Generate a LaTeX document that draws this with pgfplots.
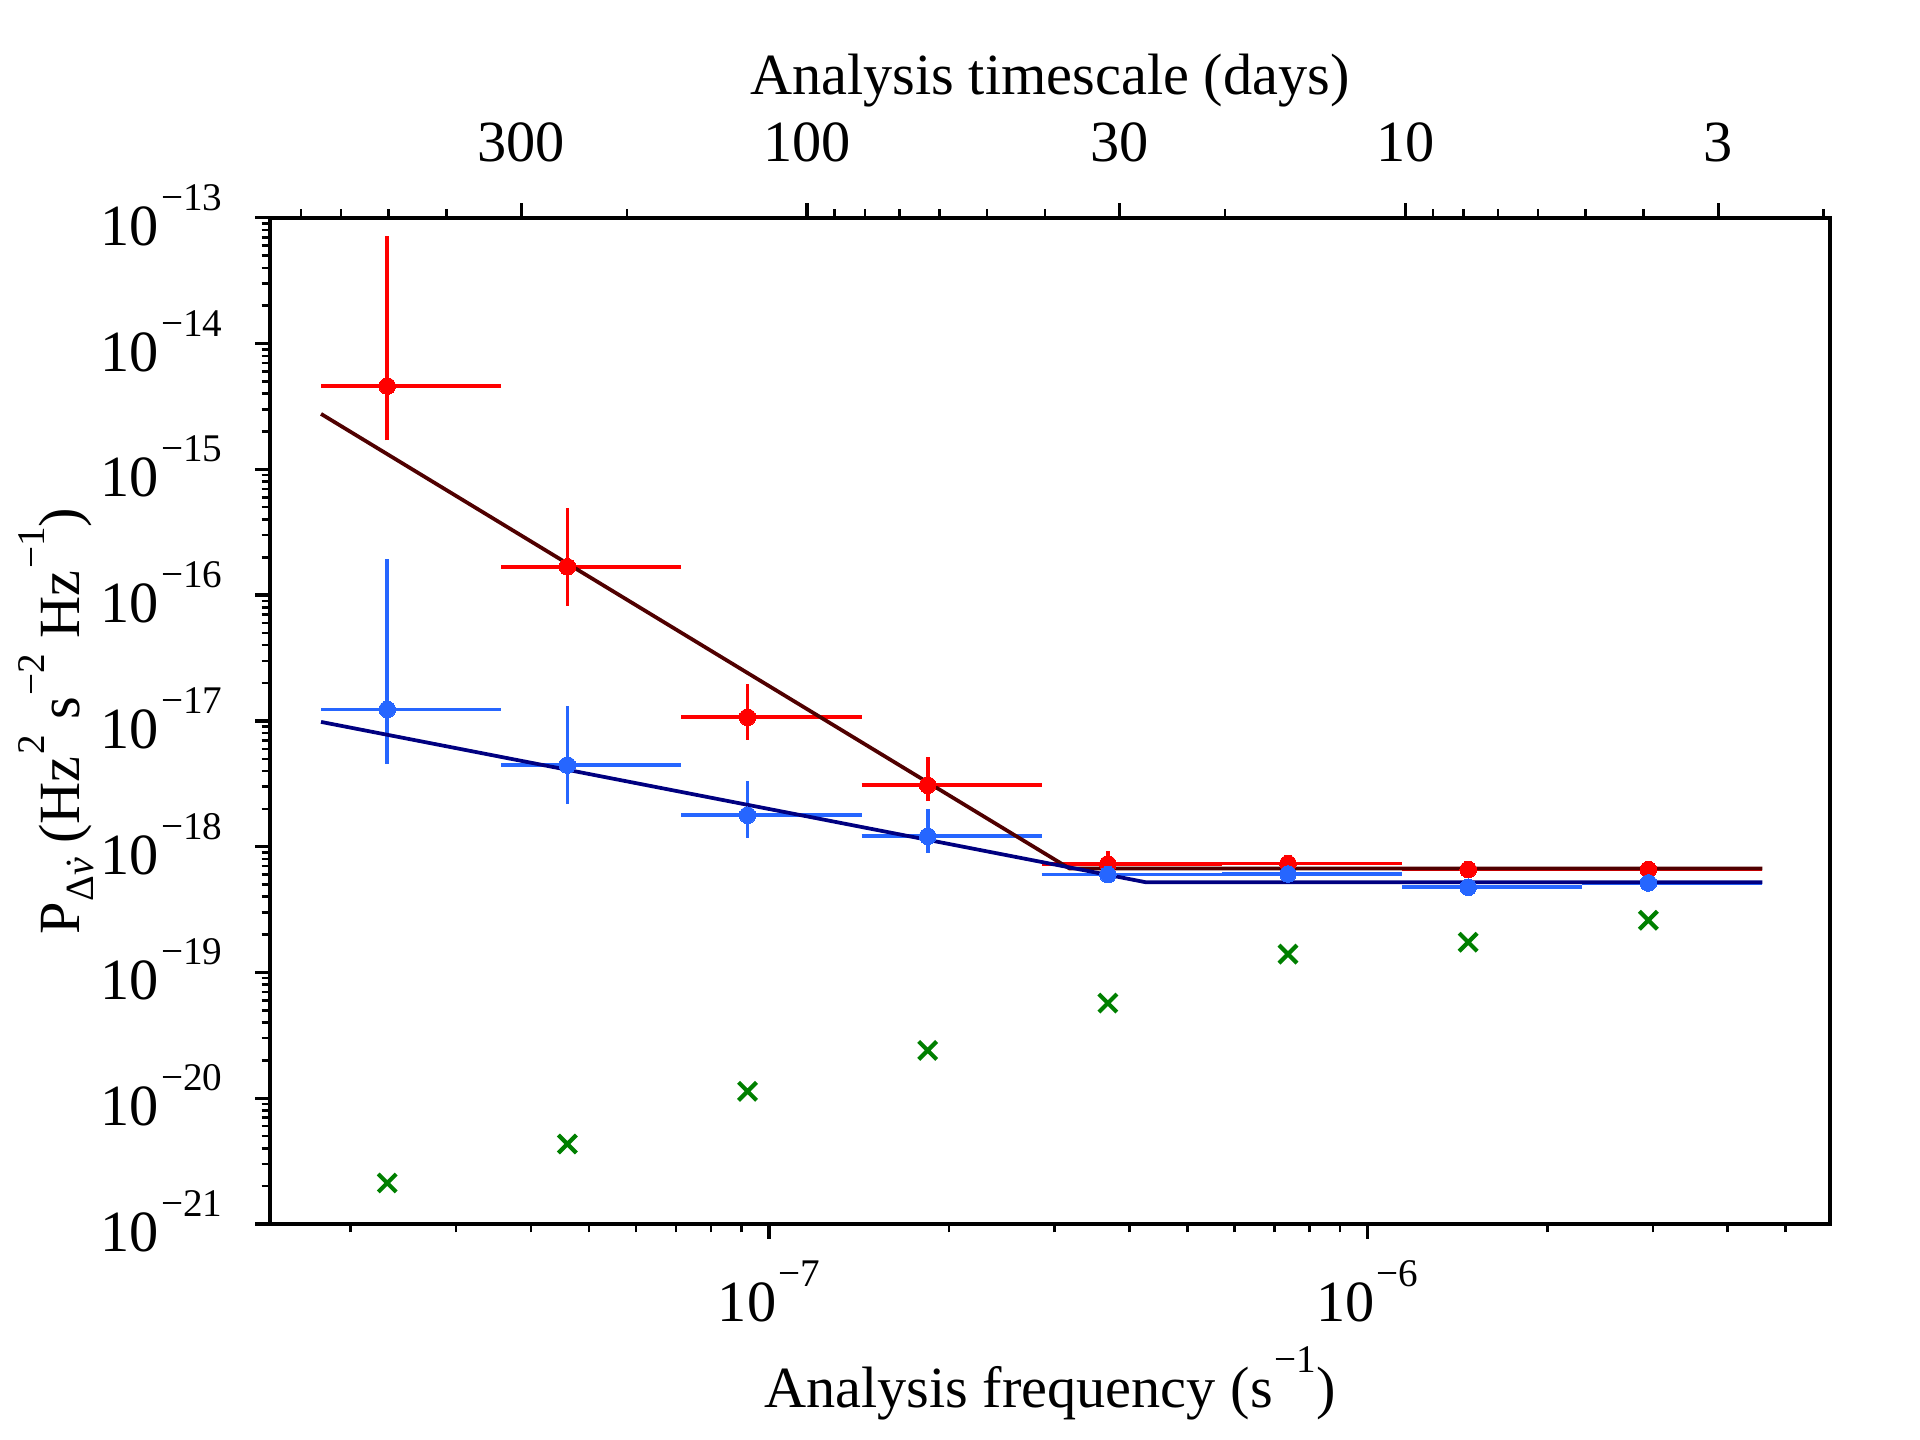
\documentclass[border=0pt]{standalone}
\usepackage{fontspec}
\setmainfont{Liberation Serif}
\usepackage{pgfplots}
\pgfplotsset{compat=1.18}
\definecolor{cred}{RGB}{255,0,0}
\definecolor{cblue}{RGB}{38,102,255}
\definecolor{cdred}{RGB}{80,0,0}
\definecolor{cnavy}{RGB}{0,0,128}
\definecolor{cgreen}{RGB}{0,128,0}
\newcommand{\sps}[1]{\kern0.5pt\raisebox{8.4pt}{\fontsize{9.4pt}{9.4pt}\selectfont #1}}
\newcommand{\sbs}[1]{\raisebox{-3.2pt}{\fontsize{9.6pt}{9.6pt}\selectfont #1}}
\newcommand{\tp}[1]{10\sps{#1}}
\newcommand{\bigfont}{\fontsize{14pt}{16pt}\selectfont}
\newcommand{\nudot}{\setbox0\hbox{\itshape ν}\hbox to \wd0{\hss\kern0.08em\itshape ˙\hss}\kern-\wd0\box0}
\begin{document}
\begin{tikzpicture}
\begin{loglogaxis}[
  scale only axis, width=374.4pt, height=241.5pt,
  xmin=1.4664e-8, xmax=5.928e-6, ymin=1e-21, ymax=1e-13,
  tick align=outside,
  major tick length=3.5pt, minor tick length=2pt,
  every tick/.style={black},
  every major tick/.append style={line width=0.8pt},
  every minor tick/.append style={line width=0.6pt},
  axis line style={line width=0.9pt},
  every tick label/.append style={font=\bigfont, inner sep=0pt},
  xtick pos=left, ytick pos=left,
  xtick={1e-7,1e-6}, xticklabels={\tp{−7},\tp{−6}},
  minor xtick={2e-8,3e-8,4e-8,5e-8,6e-8,7e-8,8e-8,9e-8,2e-7,3e-7,4e-7,5e-7,6e-7,7e-7,8e-7,9e-7,2e-6,3e-6,4e-6,5e-6},
  ytick={1e-21,1e-20,1e-19,1e-18,1e-17,1e-16,1e-15,1e-14,1e-13},
  yticklabels={\tp{−21},\tp{−20},\tp{−19},\tp{−18},\tp{−17},\tp{−16},\tp{−15},\tp{−14},\tp{−13}},
  minor ytick={2e-21,3e-21,4e-21,5e-21,6e-21,7e-21,8e-21,9e-21,
    2e-20,3e-20,4e-20,5e-20,6e-20,7e-20,8e-20,9e-20,
    2e-19,3e-19,4e-19,5e-19,6e-19,7e-19,8e-19,9e-19,
    2e-18,3e-18,4e-18,5e-18,6e-18,7e-18,8e-18,9e-18,
    2e-17,3e-17,4e-17,5e-17,6e-17,7e-17,8e-17,9e-17,
    2e-16,3e-16,4e-16,5e-16,6e-16,7e-16,8e-16,9e-16,
    2e-15,3e-15,4e-15,5e-15,6e-15,7e-15,8e-15,9e-15,
    2e-14,3e-14,4e-14,5e-14,6e-14,7e-14,8e-14,9e-14},
  xticklabel style={anchor=base, yshift=-19.85pt},
  yticklabel style={anchor=base east, yshift=-6.6pt, xshift=-7.7pt},
  xlabel={Analysis frequency (s\sps{−1})},
  ylabel={P\sbs{Δ\nudot} (Hz\sps{2} s\sps{−2} Hz\sps{−1})},
  every axis x label/.style={at={(axis description cs:0.5,0)}, yshift=-44.1pt, anchor=base, font=\bigfont, inner sep=0pt},
  every axis y label/.style={at={(axis description cs:0,0.5)}, xshift=-45.6pt, rotate=90, anchor=base, font=\bigfont, inner sep=0pt},
  unbounded coords=jump,
]
% red error bars
\addplot[cred, line width=0.9pt] coordinates {
(2.3026e-8,1.70e-15)(2.3026e-8,7.15e-14)(2.3026e-8,nan)
(1.785e-8,4.59e-15)(3.570e-8,4.59e-15)(3.570e-8,nan)
(4.6052e-8,8.27e-17)(4.6052e-8,4.91e-16)(4.6052e-8,nan)
(3.570e-8,1.68e-16)(7.140e-8,1.68e-16)(7.140e-8,nan)
(9.2104e-8,7.11e-18)(9.2104e-8,1.98e-17)(9.2104e-8,nan)
(7.140e-8,1.07e-17)(1.428e-7,1.07e-17)(1.428e-7,nan)
(1.8421e-7,2.30e-18)(1.8421e-7,5.14e-18)(1.8421e-7,nan)
(1.428e-7,3.08e-18)(2.856e-7,3.08e-18)(2.856e-7,nan)
(3.6842e-7,5.9e-19)(3.6842e-7,9.2e-19)(3.6842e-7,nan)
(2.856e-7,7.29e-19)(5.712e-7,7.29e-19)(5.712e-7,nan)
(7.3683e-7,6.5e-19)(7.3683e-7,8.3e-19)(7.3683e-7,nan)
(5.712e-7,7.34e-19)(1.1424e-6,7.34e-19)(1.1424e-6,nan)
(1.4737e-6,5.9e-19)(1.4737e-6,7.3e-19)(1.4737e-6,nan)
(1.1424e-6,6.58e-19)(2.2848e-6,6.58e-19)(2.2848e-6,nan)
(2.9473e-6,6.0e-19)(2.9473e-6,7.2e-19)(2.9473e-6,nan)
(2.2848e-6,6.58e-19)(4.5696e-6,6.58e-19)
};
% blue error bars
\addplot[cblue, line width=0.9pt] coordinates {
(2.3026e-8,4.55e-18)(2.3026e-8,1.93e-16)(2.3026e-8,nan)
(1.785e-8,1.233e-17)(3.570e-8,1.233e-17)(3.570e-8,nan)
(4.6052e-8,2.19e-18)(4.6052e-8,1.31e-17)(4.6052e-8,nan)
(3.570e-8,4.45e-18)(7.140e-8,4.45e-18)(7.140e-8,nan)
(9.2104e-8,1.175e-18)(9.2104e-8,3.32e-18)(9.2104e-8,nan)
(7.140e-8,1.78e-18)(1.428e-7,1.78e-18)(1.428e-7,nan)
(1.8421e-7,8.91e-19)(1.8421e-7,1.99e-18)(1.8421e-7,nan)
(1.428e-7,1.21e-18)(2.856e-7,1.21e-18)(2.856e-7,nan)
(3.6842e-7,5.3e-19)(3.6842e-7,6.8e-19)(3.6842e-7,nan)
(2.856e-7,6.0e-19)(5.712e-7,6.0e-19)(5.712e-7,nan)
(7.3683e-7,5.5e-19)(7.3683e-7,6.7e-19)(7.3683e-7,nan)
(5.712e-7,6.07e-19)(1.1424e-6,6.07e-19)(1.1424e-6,nan)
(1.4737e-6,4.4e-19)(1.4737e-6,5.2e-19)(1.4737e-6,nan)
(1.1424e-6,4.76e-19)(2.2848e-6,4.76e-19)(2.2848e-6,nan)
(2.9473e-6,4.8e-19)(2.9473e-6,5.6e-19)(2.9473e-6,nan)
(2.2848e-6,5.15e-19)(4.5696e-6,5.15e-19)
};
% red points
\addplot[cred, only marks, mark=*, mark size=2pt, mark options={draw=cred, fill=cred, line width=0pt}] coordinates {
(2.3026e-8,4.59e-15)(4.6052e-8,1.68e-16)(9.2104e-8,1.07e-17)(1.8421e-7,3.08e-18)
(3.6842e-7,7.29e-19)(7.3683e-7,7.34e-19)(1.4737e-6,6.58e-19)(2.9473e-6,6.58e-19)
};
% blue points
\addplot[cblue, only marks, mark=*, mark size=2pt, mark options={draw=cblue, fill=cblue, line width=0pt}] coordinates {
(2.3026e-8,1.233e-17)(4.6052e-8,4.45e-18)(9.2104e-8,1.78e-18)(1.8421e-7,1.21e-18)
(3.6842e-7,6.0e-19)(7.3683e-7,6.07e-19)(1.4737e-6,4.76e-19)(2.9473e-6,5.15e-19)
};
% green crosses
\addplot[cgreen, only marks, mark=x, mark size=3.05pt, mark options={draw=cgreen, line width=1pt}] coordinates {
(2.3026e-8,2.12e-21)(4.6052e-8,4.33e-21)(9.2104e-8,1.135e-20)(1.8421e-7,2.40e-20)
(3.6842e-7,5.71e-20)(7.3683e-7,1.40e-19)(1.4737e-6,1.74e-19)(2.9473e-6,2.60e-19)
};
% fits
\addplot[cdred, line width=0.9pt] coordinates {(1.785e-8,2.76e-15)(3.18e-7,6.70e-19)(4.5696e-6,6.70e-19)};
\addplot[cnavy, line width=0.9pt] coordinates {(1.785e-8,9.82e-18)(4.26e-7,5.22e-19)(4.5696e-6,5.22e-19)};
\end{loglogaxis}
\begin{loglogaxis}[
  scale only axis, width=374.4pt, height=241.5pt,
  xmin=1.4664e-8, xmax=5.928e-6, ymin=1e-21, ymax=1e-13,
  tick align=outside,
  major tick length=3.5pt, minor tick length=2pt,
  every tick/.style={black},
  every major tick/.append style={line width=0.8pt},
  every minor tick/.append style={line width=0.6pt},
  axis line style={line width=0.9pt},
  every tick label/.append style={font=\bigfont, inner sep=0pt},
  axis x line*=top, axis y line=none,
  xtick={3.8580e-8,1.1574e-7,3.8580e-7,1.1574e-6,3.8580e-6},
  xticklabels={300,100,30,10,3},
  minor xtick={1.6534e-8,1.9290e-8,2.3148e-8,2.8935e-8,5.7870e-8,1.2860e-7,1.4468e-7,1.6534e-7,1.9290e-7,2.3148e-7,2.8935e-7,5.7870e-7,1.2860e-6,1.4468e-6,1.6534e-6,1.9290e-6,2.3148e-6,2.8935e-6,5.7870e-6},
  xticklabel style={anchor=base, yshift=9.94pt},
  xlabel={Analysis timescale (days)},
  every axis x label/.style={at={(axis description cs:0.5,1)}, yshift=29.6pt, anchor=base, font=\bigfont, inner sep=0pt},
]
\end{loglogaxis}
\pgfresetboundingbox
\path[use as bounding box] (-64.8pt,-51.84pt) rectangle (396pt,293.76pt);
\end{tikzpicture}
\end{document}
